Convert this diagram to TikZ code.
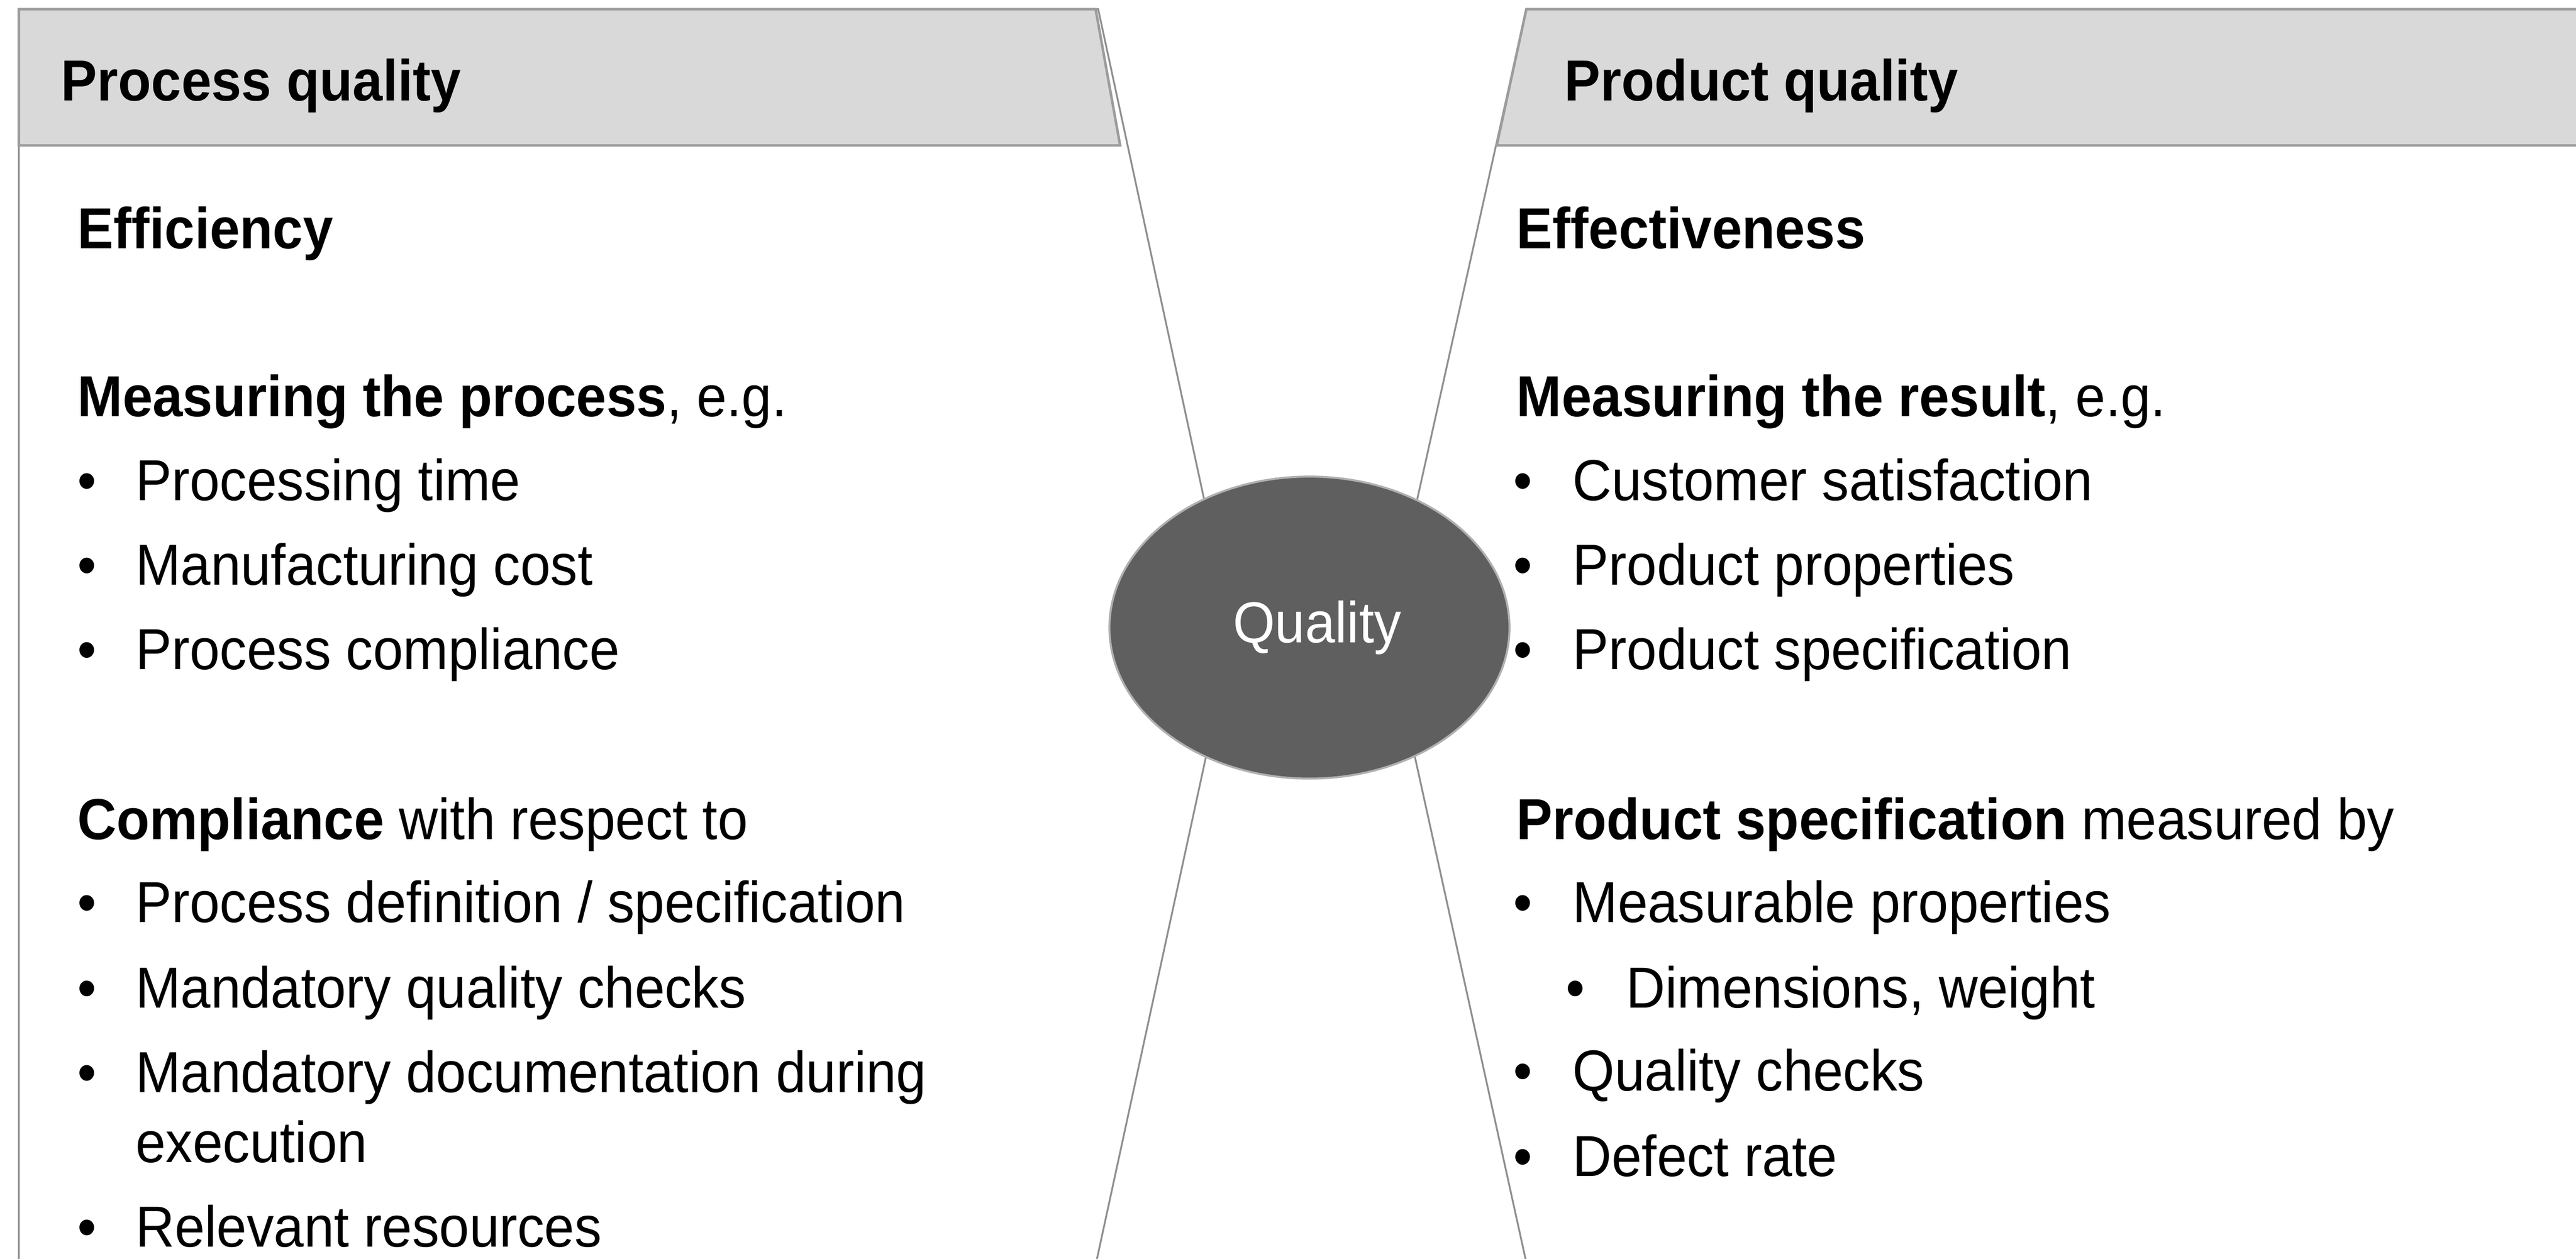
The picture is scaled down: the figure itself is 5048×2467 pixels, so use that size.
\documentclass[tikz,border=0pt]{standalone}
\usepackage{fontspec}
\setmainfont{Liberation Sans}
\usetikzlibrary{shapes.geometric}
\definecolor{hdrfill}{HTML}{D9D9D9}
\definecolor{hdrline}{HTML}{9C9C9C}
\definecolor{edgeline}{HTML}{8F8F8F}
\definecolor{qfill}{HTML}{5F5F5F}
\newcommand{\bul}[1][11.4pt]{\makebox[#1][l]{\textbullet}}
\begin{document}
\begin{tikzpicture}[x=0.1pt,y=-0.1pt,
  txt/.style={anchor=base west,inner sep=0pt,outer sep=0pt,yscale=1.07,
     font=\fontsize{10.6}{12}\selectfont},
  hdr/.style={fill=hdrfill,draw=hdrline,line width=0.5pt,line join=miter},
  edge/.style={draw=edgeline,line width=0.35pt}]
\useasboundingbox (0,0) rectangle (5048,2467);
\clip (0,0) rectangle (5048,2467);
\fill[white] (0,0) rectangle (5048,2467);
% panel edges
\coordinate (lt) at (2152,18);
\coordinate (lapex) at (2416,1240);
\coordinate (lb) at (2149,2470);
\coordinate (rt) at (2991,18);
\coordinate (rapex) at (2719,1240);
\coordinate (rb) at (2990,2470);
\draw[edge] (37,2480) -- (37,18) -- (lt) -- (lapex) -- (lb);
\draw[edge] (5060,18) -- (rt) -- (rapex) -- (rb);
% headers
\path[hdr] (37,18) -- (2147,18) -- (2195,285) -- (37,285) -- cycle;
\path[hdr] (2991,18) -- (5070,18) -- (5070,285) -- (2933,285) -- cycle;
% center ellipse
\node[ellipse,fill=qfill,draw=hdrline!80,line width=0.4pt,minimum width=78.4pt,
  minimum height=59.2pt,inner sep=0pt,text=white,
  font=\fontsize{10.6}{12}\selectfont] (q) at (2566,1230)
  {\hspace*{3pt}\raisebox{-1pt}{\scalebox{1}[1.07]{Quality}}};
% left column
\node[txt,font=\fontsize{10.6}{12}\selectfont\bfseries] (h1) at (120,197) {Process quality};
\node[txt,font=\fontsize{10.6}{12}\selectfont\bfseries] (l1) at (152,487) {Efficiency};
\node[txt] (l2) at (152,816) {\textbf{Measuring the process}, e.g.};
\node[txt] (l3) at (152,981) {\bul Processing time};
\node[txt] (l4) at (152,1146) {\bul Manufacturing cost};
\node[txt] (l5) at (152,1312) {\bul Process compliance};
\node[txt] (l6) at (152,1645) {\textbf{Compliance} with respect to};
\node[txt] (l7) at (152,1808) {\bul Process definition / specification};
\node[txt] (l8) at (152,1975) {\bul Mandatory quality checks};
\node[txt] (l9) at (152,2141) {\bul Mandatory documentation during};
\node[txt] (l10) at (266,2278) {execution};
\node[txt] (l11) at (152,2444) {\bul Relevant resources};
% right column
\node[txt,font=\fontsize{10.6}{12}\selectfont\bfseries] (h2) at (3066,197) {Product quality};
\node[txt,font=\fontsize{10.6}{12}\selectfont\bfseries] (r1) at (2972,487) {Effectiveness};
\node[txt] (r2) at (2972,816) {\textbf{Measuring the result}, e.g.};
\node[txt] (r3) at (2966,981) {\bul[11.6pt]Customer satisfaction};
\node[txt] (r4) at (2966,1146) {\bul[11.6pt]Product properties};
\node[txt] (r5) at (2966,1312) {\bul[11.6pt]Product specification};
\node[txt] (r6) at (2972,1645) {\textbf{Product specification} measured by};
\node[txt] (r7) at (2966,1808) {\bul[11.6pt]Measurable properties};
\node[txt] (r8) at (3069,1975) {\bul[11.8pt]Dimensions, weight};
\node[txt] (r9) at (2966,2138) {\bul[11.6pt]Quality checks};
\node[txt] (r10) at (2966,2305) {\bul[11.6pt]Defect rate};
\end{tikzpicture}
\end{document}
